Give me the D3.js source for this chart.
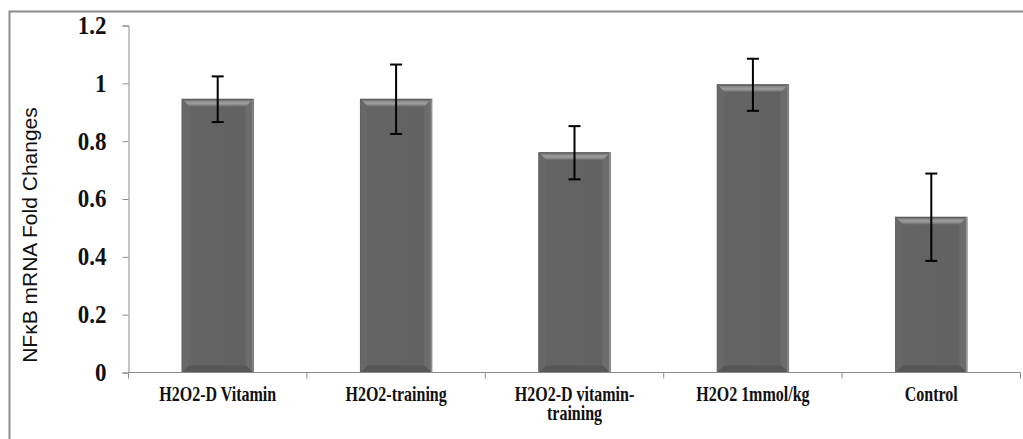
<!DOCTYPE html>
<html>
<head>
<meta charset="utf-8">
<script src="https://cdn.jsdelivr.net/npm/d3@7"></script>
<style>
  html, body { margin: 0; padding: 0; background: #fff; }
  svg { display: block; }
</style>
</head>
<body>
<svg id="chart" width="1023" height="439"></svg>
<script>
const categories = ["H2O2-D Vitamin", "H2O2-training", "H2O2-D vitamin-training", "H2O2 1mmol/kg", "Control"];
const values = [0.945, 0.945, 0.76, 0.995, 0.537];
const errors = [0.079, 0.12, 0.092, 0.09, 0.151];
const yTicks = [0, 0.2, 0.4, 0.6, 0.8, 1, 1.2];
const yLabel = "NFκB mRNA Fold Changes";

(function() {
const svg = d3.select("#chart");
const pLeft = 128.5, pRight = 1020.5, pTop = 25.5, pBottom = 372.5;

svg.append("path").attr("d", "M9.5,439 V11.5 H1023").attr("fill", "none")
  .attr("stroke", "#8c8c8c").attr("stroke-width", 2);

const x = d3.scaleBand().domain(categories).range([pLeft, pRight])
  .paddingInner(0.6).paddingOuter(0.3);
const y = d3.scaleLinear().domain([0, 1.2]).range([pBottom, pTop]);

const defs = svg.append("defs");
const gTop = defs.append("linearGradient").attr("id", "gTop").attr("x1", 0).attr("y1", 0).attr("x2", 0).attr("y2", 1);
gTop.append("stop").attr("offset", "0%").attr("stop-color", "#555");
gTop.append("stop").attr("offset", "30%").attr("stop-color", "#8e8e8e");
gTop.append("stop").attr("offset", "60%").attr("stop-color", "#9c9c9c");
gTop.append("stop").attr("offset", "100%").attr("stop-color", "#727272");
const gBody = defs.append("linearGradient").attr("id", "gBody").attr("x1", 0).attr("y1", 0).attr("x2", 1).attr("y2", 0);
gBody.append("stop").attr("offset", "0%").attr("stop-color", "#6a6a6a");
gBody.append("stop").attr("offset", "4%").attr("stop-color", "#5c5c5c");
gBody.append("stop").attr("offset", "10%").attr("stop-color", "#646464");
gBody.append("stop").attr("offset", "88%").attr("stop-color", "#626262");
gBody.append("stop").attr("offset", "92%").attr("stop-color", "#747474");
gBody.append("stop").attr("offset", "96%").attr("stop-color", "#5e5e5e");
gBody.append("stop").attr("offset", "100%").attr("stop-color", "#8a8a8a");

// y axis
const yAxis = d3.axisLeft(y).tickValues(yTicks).tickSize(6).tickPadding(16)
  .tickFormat(d => String(d));
const gy = svg.append("g").attr("transform", `translate(${pLeft},0)`).call(yAxis);
gy.select(".domain").attr("stroke", "#8c8c8c");
gy.selectAll(".tick line").attr("stroke", "#8c8c8c");
gy.selectAll(".tick text").attr("font-family", "'Liberation Serif', 'Times New Roman', serif")
  .attr("font-weight", "bold").attr("font-size", "23px").attr("fill", "#111")
  .attr("transform", "scale(1,1.08)").attr("y", 0);

// bars
const bw = x.bandwidth();
const bars = svg.append("g").selectAll("g.bar").data(categories).join("g").attr("class", "bar");
bars.append("rect")
  .attr("x", d => x(d)).attr("width", bw)
  .attr("y", (d, i) => y(values[i])).attr("height", (d, i) => y(0) - y(values[i]))
  .attr("fill", "url(#gBody)").attr("stroke", "#555").attr("stroke-width", 1);
const h = 7;
bars.append("path")
  .attr("d", (d, i) => {
    const x0 = x(d), x1 = x0 + bw, t = y(values[i]);
    return `M${x0},${t} H${x1} L${x1 - h},${t + h} H${x0 + h} Z`;
  }).attr("fill", "url(#gTop)");
bars.append("path")
  .attr("d", (d) => {
    const x0 = x(d), x1 = x0 + bw, b = y(0);
    return `M${x0},${b} H${x1} L${x1 - h},${b - h} H${x0 + h} Z`;
  }).attr("fill", "#575757");
bars.append("path")
  .attr("d", (d, i) => {
    const x0 = x(d), t = y(values[i]), b = y(0);
    return `M${x0},${t} L${x0 + h},${t + h} V${b - h} L${x0},${b} Z`;
  }).attr("fill", "#686868");
bars.append("path")
  .attr("d", (d, i) => {
    const x1 = x(d) + bw, t = y(values[i]), b = y(0);
    return `M${x1},${t} L${x1 - h},${t + h} V${b - h} L${x1},${b} Z`;
  }).attr("fill", "#6c6c6c");
bars.append("line")
  .attr("x1", d => x(d) + bw - 0.5).attr("x2", d => x(d) + bw - 0.5)
  .attr("y1", (d, i) => y(values[i])).attr("y2", y(0))
  .attr("stroke", "#9a9a9a").attr("stroke-width", 1);

// error bars
const cx = d => x(d) + bw / 2;
const eb = svg.append("g").selectAll("g.err").data(categories).join("g").attr("class", "err");
eb.append("line")
  .attr("x1", cx).attr("x2", cx)
  .attr("y1", (d, i) => y(values[i] + errors[i])).attr("y2", (d, i) => y(values[i] - errors[i]))
  .attr("stroke", "#000").attr("stroke-width", 2);
[1, -1].forEach(s => {
  eb.append("line")
    .attr("x1", d => cx(d) - 6).attr("x2", d => cx(d) + 6)
    .attr("y1", (d, i) => y(values[i] + s * errors[i])).attr("y2", (d, i) => y(values[i] + s * errors[i]))
    .attr("stroke", "#000").attr("stroke-width", 2);
});

// x axis
svg.append("line").attr("x1", pLeft).attr("x2", pRight).attr("y1", pBottom).attr("y2", pBottom)
  .attr("stroke", "#8c8c8c");
const step = x.step();
const tickXs = d3.range(categories.length + 1).map(i => x(categories[0]) - (step - bw) / 2 + i * step);
svg.append("g").selectAll("line").data(tickXs).join("line")
  .attr("x1", d => d).attr("x2", d => d).attr("y1", pBottom).attr("y2", pBottom + 6)
  .attr("stroke", "#8c8c8c");

// x labels with wrap (slightly stretched vertically like the reference)
const xl = svg.append("g").selectAll("g").data(categories).join("g")
  .attr("transform", d => `translate(${cx(d)},401) scale(1,1.28)`)
  .append("text")
  .attr("x", 0).attr("y", 0)
  .attr("text-anchor", "middle")
  .attr("font-family", "'Liberation Serif', 'Times New Roman', serif")
  .attr("font-weight", "bold").attr("font-size", "16px").attr("fill", "#111");
xl.each(function(d) {
  const t = d3.select(this);
  t.text(d);
  if (this.getComputedTextLength() > 140 && d.lastIndexOf("-") > 0) {
    const k = d.lastIndexOf("-") + 1;
    t.text(null);
    t.append("tspan").attr("x", 0).attr("dy", 0).text(d.slice(0, k));
    t.append("tspan").attr("x", 0).attr("dy", 15).text(d.slice(k));
  }
});

// y label
svg.append("text")
  .attr("transform", `translate(37,${(110 + 360) / 2}) rotate(-90)`)
  .attr("text-anchor", "middle")
  .attr("font-family", "'Liberation Sans', Arial, sans-serif")
  .attr("font-size", "21px").attr("fill", "#111")
  .text(yLabel);
})();
</script>
</body>
</html>
